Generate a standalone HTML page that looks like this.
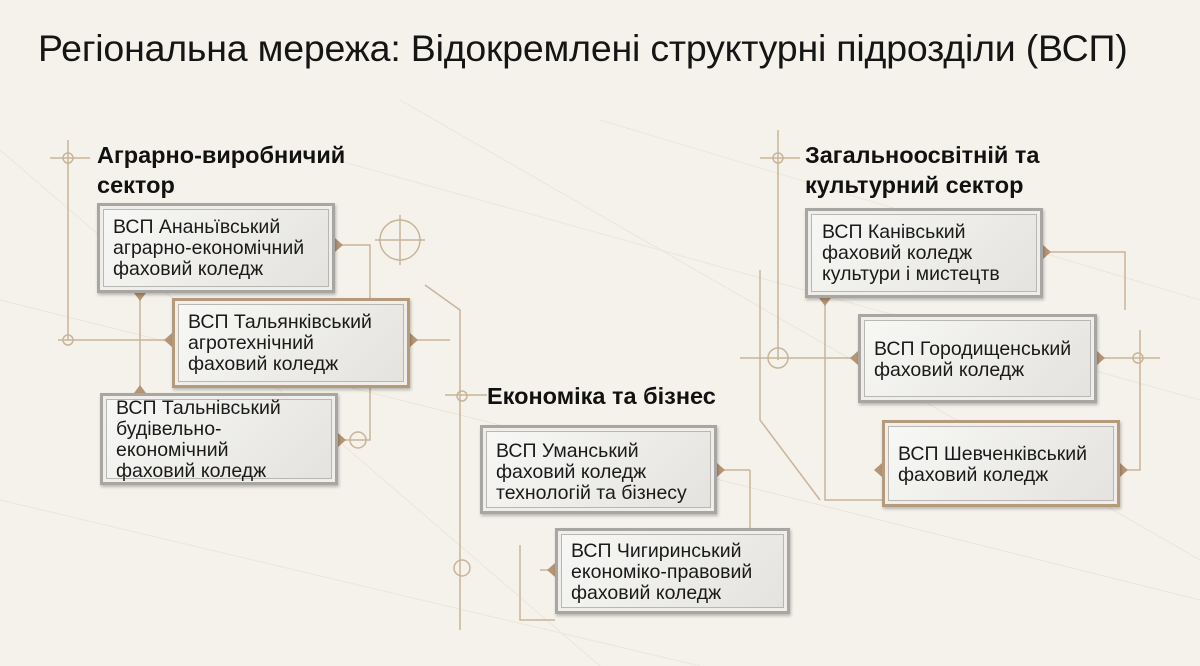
<!DOCTYPE html>
<html><head><meta charset="utf-8"><style>
body{margin:0;width:1200px;height:666px;overflow:hidden;background:#f4f2ea;font-family:"Liberation Sans",sans-serif;position:relative}
h1{position:absolute;left:38px;top:27px;margin:0;font-weight:400;font-size:37.5px;color:#151515;letter-spacing:-0.2px;white-space:nowrap}
.sec{position:absolute;font-weight:700;font-size:23.5px;line-height:30px;color:#111;white-space:nowrap}
.b{position:absolute;box-sizing:border-box;border:3px solid #a8a6a2;background:linear-gradient(135deg,#f8f8f6,#e3e2de);box-shadow:inset 0 0 0 3px #efeeea,inset 0 0 0 4px #b9b7b2,1px 2px 3px rgba(0,0,0,.25);font-size:19.5px;line-height:21px;color:#1a1a1a;padding:11px 0 0 13px;white-space:nowrap}
.c{border-color:#b59a7c}
svg{position:absolute;left:0;top:0}
</style></head><body>
<svg width="1200" height="666">
<g stroke="#ebe6da" stroke-width="1" fill="none">
<path d="M0 300 L1200 600 M0 500 L700 666 M300 150 L1200 400 M0 150 L600 666 M400 100 L1200 560 M600 120 L1200 300"/>
</g>
<g stroke="#c9b49a" stroke-width="1.5" fill="none">
<path d="M68 140 V340 M50 158 H90 M58 340 H172 M140 293 V393 M335 245 H370 V300 M410 340 H450 M338 440 H370 V300"/>
<circle cx="68" cy="158" r="5"/><circle cx="68" cy="340" r="5"/>
<circle cx="400" cy="240" r="20"/><path d="M400 215 V265 M375 240 H425"/>
<circle cx="358" cy="440" r="8"/>
<path d="M425 285 L460 310 V630 M445 395 H480 M460 395 H487"/>
<circle cx="462" cy="396" r="5"/>
<path d="M750 470 V570 M717 470 H750 M520 545 V620 L555 620 M540 570 H555"/>
<circle cx="462" cy="568" r="8"/>
<path d="M778 130 V360 M760 158 H800 M740 358 H858 M825 298 V500 H882 M1043 252 H1125 V310 M1097 358 H1160 M1140 330 V470 H1120 M760 270 V420 L820 500"/>
<circle cx="778" cy="158" r="5"/><circle cx="778" cy="358" r="10"/><circle cx="1138" cy="358" r="5"/>
</g>
<g fill="#b59572">
<path d="M335 238 l8 7 -8 7z M410 333 l8 7 -8 7z M338 433 l8 7 -8 7z M172 333 l-8 7 8 7z M134 293 l6 8 6-8z M134 393 l6-8 6 8z M1043 245 l8 7 -8 7z M858 351 l-8 7 8 7z M1097 351 l8 7 -8 7z M882 463 l-8 7 8 7z M1120 463 l8 7 -8 7z M819 298 l6 8 6-8z M717 463 l8 7 -8 7z M555 563 l-8 7 8 7z"/>
</g>
<g stroke="#bdbab4" fill="none" stroke-width="1.5">
<circle cx="310" cy="270" r="14"/><circle cx="310" cy="270" r="6"/>
<circle cx="312" cy="460" r="16"/><circle cx="312" cy="460" r="6"/>
<path d="M370 345 L400 375 M400 345 L370 375"/>
<path d="M680 505 L700 485 L712 490 M692 505 V495 M700 505 V490"/>
<rect x="990" y="260" width="42" height="26"/>
<circle cx="1064" cy="380" r="16"/><rect x="1054" y="372" width="20" height="14"/>
<path d="M1070 455 H1110 M1075 455 V490 M1085 455 V490 M1095 455 V490 M1105 455 V490"/>
<path d="M745 590 L765 575 L785 590 M750 600 H780"/>
</g>
</svg>
<h1>Регіональна мережа: Відокремлені структурні підрозділи (ВСП)</h1>
<div class="sec" style="left:97px;top:140px">Аграрно-виробничий<br>сектор</div>
<div class="sec" style="left:487px;top:381px">Економіка та бізнес</div>
<div class="sec" style="left:805px;top:140px">Загальноосвітній та<br>культурний сектор</div>
<div class="b" style="left:97px;top:203px;width:238px;height:90px">ВСП Ананьївський<br>аграрно-економічний<br>фаховий коледж</div>
<div class="b c" style="left:172px;top:298px;width:238px;height:90px">ВСП Тальянківський<br>агротехнічний<br>фаховий коледж</div>
<div class="b" style="left:100px;top:393px;width:238px;height:92px;padding-top:2px">ВСП Тальнівський<br>будівельно-<br>економічний<br>фаховий коледж</div>
<div class="b" style="left:480px;top:425px;width:237px;height:89px;padding-top:13px">ВСП Уманський<br>фаховий коледж<br>технологій та бізнесу</div>
<div class="b" style="left:555px;top:528px;width:235px;height:86px;padding-top:10px">ВСП Чигиринський<br>економіко-правовий<br>фаховий коледж</div>
<div class="b" style="left:805px;top:208px;width:238px;height:90px;padding-left:14px">ВСП Канівський<br>фаховий коледж<br>культури і мистецтв</div>
<div class="b" style="left:858px;top:314px;width:239px;height:89px;padding-top:22px">ВСП Городищенський<br>фаховий коледж</div>
<div class="b c" style="left:882px;top:420px;width:238px;height:87px;padding-top:21px">ВСП Шевченківський<br>фаховий коледж</div>
</body></html>
